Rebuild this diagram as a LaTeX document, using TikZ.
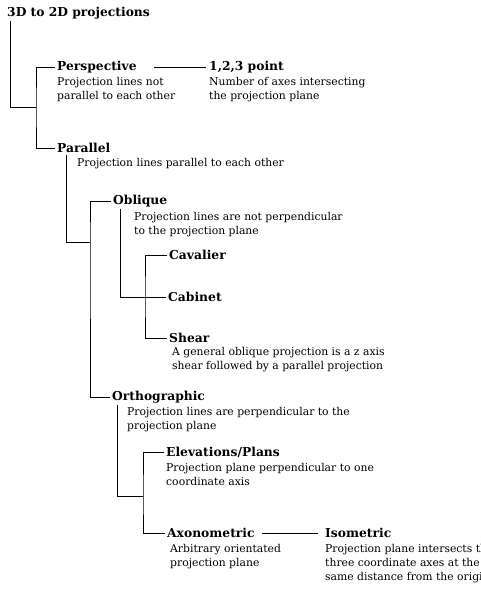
\documentclass[tikz,border=0pt]{standalone}
\usepackage{fontspec}
\setmainfont{DejaVu Serif}
\newfontfamily\headfamily{DejaVu Serif}
\usepackage{tikz}
\usetikzlibrary{calc,positioning}

\begin{document}
\begin{tikzpicture}[x=1pt, y=-1pt,
			head/.style={anchor=west, inner sep=2pt,
				font=\headfamily\bfseries\fontsize{12.3}{14}\selectfont},
			desc/.style={anchor=north west, inner sep=0pt, align=left,
				font=\fontsize{10.8}{14}\selectfont},
			ln/.style={line width=1pt, black}]
			
			\useasboundingbox (0,0) rectangle (480,589);
			\clip (0,0) rectangle (480,589);
			
			% Root
			\node[head] (root) at (5,13) {3D to 2D projections};
			
			% Perspective
			\node[head] (persp) at (55,67) {Perspective};
			\node[desc] (perspd) at (57,77) {Projection lines not\\parallel to each other};
			\node[head] (pt) at (207,67) {1,2,3 point};
			\node[desc] (ptd) at (209,77) {Number of axes intersecting\\the projection plane};
			
			% Parallel
			\node[head] (par) at (55,148) {Parallel};
			\node[desc] (pard) at (77,158) {Projection lines parallel to each other};
			
			% Oblique
			\node[head] (obl) at (111,201) {Oblique};
			\node[desc] (obld) at (134,212) {Projection lines are not perpendicular\\to the projection plane};
			\node[head] (cav) at (167,255) {Cavalier};
			\node[head] (cab) at (166,297) {Cabinet};
			\node[head] (she) at (167,338) {Shear};
			\node[desc] (shed) at (172,347) {A general oblique projection is a z axis\\shear followed by a parallel projection};
			
			% Orthographic
			\node[head] (orth) at (110,397) {Orthographic};
			\node[desc] (orthd) at (127,407) {Projection lines are perpendicular to the\\projection plane};
			\node[head] (elev) at (164,452) {Elevations/Plans};
			\node[desc] (elevd) at (166,463) {Projection plane perpendicular to one\\coordinate axis};
			\node[head] (axo) at (165,533) {Axonometric};
			\node[desc] (axod) at (170,544) {Arbitrary orientated\\projection plane};
			\node[head] (iso) at (323,533) {Isometric};
			\node[desc] (isod) at (325,544) {Projection plane intersects the\\three coordinate axes at the\\same distance from the origin};
			
			% Junctions
			\coordinate (j0) at (36,107);
			\coordinate (j1) at (90,242);
			\coordinate (j2) at (145,297);
			\coordinate (j3) at (143,496);
			
			% Lines
			\draw[ln] ([xshift=5pt]root.south west) |- (j0);
			\draw[ln] (persp.west) -| (j0) |- (par.west);
			\draw[ln] ([xshift=15pt]persp.east) -- ([xshift=-1pt]pt.west);
			\draw[ln] ([xshift=11pt]par.south west) |- (j1);
			\draw[ln] (obl.west) -| (j1) |- (orth.west);
			\draw[ln] ([xshift=9pt]obl.south west) |- (cab.west);
			\draw[ln] (cav.west) -| (j2) |- (she.west);
			\draw[ln] ([xshift=7pt]orth.south west) |- (j3);
			\draw[ln] (elev.west) -| (j3) |- (axo.west);
			\draw[ln] ([xshift=5pt]axo.east) -- ([xshift=-5pt]iso.west);
		\end{tikzpicture}
\end{document}
